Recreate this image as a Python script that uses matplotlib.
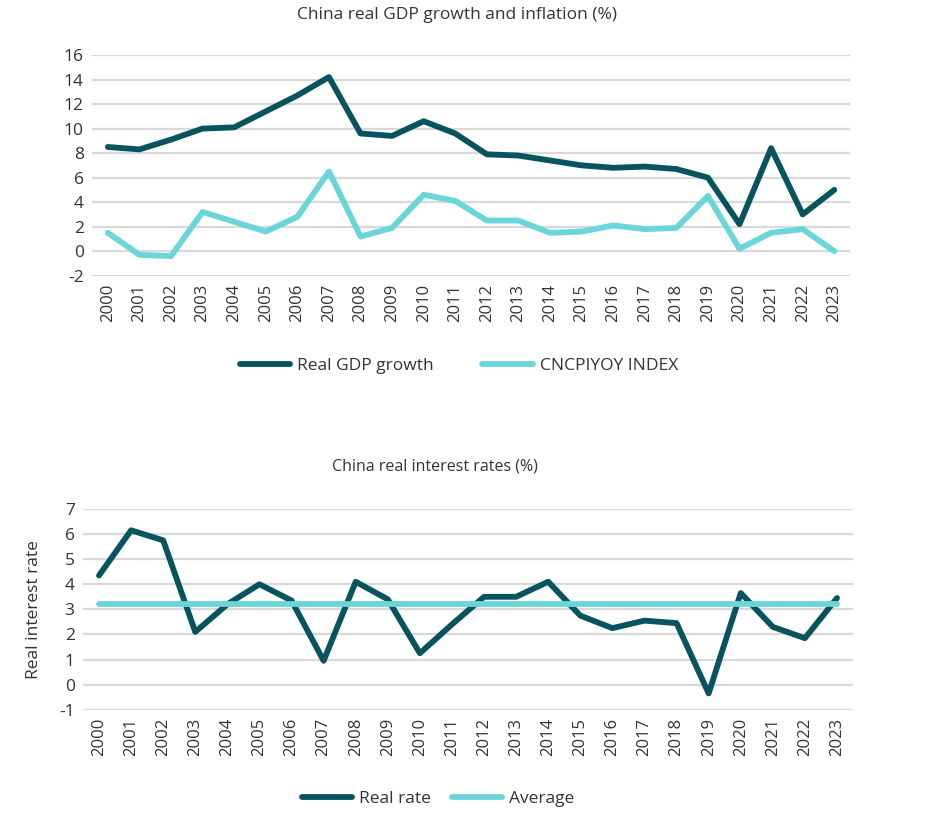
import numpy as np
import matplotlib
matplotlib.use('Agg')
import matplotlib.pyplot as plt

# data
years = [str(y) for y in range(2000, 2024)]

gdp_growth = [8.5, 8.3, 9.1, 10.0, 10.1, 11.4, 12.7, 14.2, 9.6, 9.4, 10.6, 9.6,
              7.9, 7.8, 7.4, 7.0, 6.8, 6.9, 6.7, 6.0, 2.2, 8.4, 3.0, 5.0]
cpi_yoy = [1.5, -0.3, -0.4, 3.2, 2.4, 1.6, 2.8, 6.5, 1.2, 1.9, 4.6, 4.1,
           2.5, 2.5, 1.5, 1.6, 2.1, 1.8, 1.9, 4.5, 0.2, 1.5, 1.8, 0.0]

real_rate = [4.35, 6.15, 5.75, 2.1, 3.2, 4.0, 3.35, 0.95, 4.1, 3.4, 1.25, 2.4,
             3.5, 3.5, 4.1, 2.75, 2.25, 2.55, 2.45, -0.35, 3.65, 2.3, 1.85, 3.45]
average_rate = [3.2] * len(years)

DARK = '#07545f'
LIGHT = '#6bd6d9'
GRID = '#d9d9d9'
TEXT = '#333333'
LW = 4.2

plt.rcParams['font.family'] = ['Open Sans', 'DejaVu Sans']
plt.rcParams['text.color'] = TEXT

fig = plt.figure(figsize=(9.25, 8.26), dpi=100)


def style_axes(ax, yticks):
    x = np.arange(len(years))
    ax.set_xlim(-0.5, len(years) - 0.5)
    ax.set_xticks(x)
    ax.set_xticklabels(years, rotation=90, fontsize=12, color=TEXT)
    ax.set_yticks(yticks)
    ax.set_yticklabels([str(t) for t in yticks], fontsize=12.5, color=TEXT)
    ax.set_ylim(yticks[0], yticks[-1])
    ax.grid(axis='y', color=GRID, linewidth=1.6)
    ax.set_axisbelow(True)
    for s in ax.spines.values():
        s.set_visible(False)
    ax.tick_params(length=0, pad=6)


# top chart: GDP growth and inflation
ax1 = fig.add_axes([0.0995, 0.6662, 0.8195, 0.2672])
x = np.arange(len(years))
ax1.plot(x, gdp_growth, color=DARK, lw=LW, label='Real GDP growth',
         solid_capstyle='round', clip_on=False)
ax1.plot(x, cpi_yoy, color=LIGHT, lw=LW, label='CNCPIYOY INDEX',
         solid_capstyle='round', clip_on=False)
style_axes(ax1, list(range(-2, 17, 2)))
fig.text(0.494, 0.982, 'China real GDP growth and inflation (%)',
         ha='center', va='center', fontsize=12.5)
ax1.legend(loc='upper center', bbox_to_anchor=(0.484, -0.30), ncol=2,
           frameon=False, fontsize=12.5, handlelength=2.9, handletextpad=0.4,
           columnspacing=2.8)

# bottom chart: real interest rates
ax2 = fig.add_axes([0.0897, 0.1408, 0.8325, 0.243])
ax2.plot(x, real_rate, color=DARK, lw=LW, label='Real rate',
         solid_capstyle='round', clip_on=False)
ax2.plot(x, average_rate, color=LIGHT, lw=LW, label='Average',
         solid_capstyle='round', clip_on=False)
style_axes(ax2, list(range(-1, 8)))
ax2.set_ylabel('Real interest rate', fontsize=12.5, color=TEXT, labelpad=12)
fig.text(0.47, 0.435, 'China real interest rates (%)',
         ha='center', va='center', fontsize=11.5)
ax2.legend(loc='upper center', bbox_to_anchor=(0.461, -0.325), ncol=2,
           frameon=False, fontsize=12.5, handlelength=2.9, handletextpad=0.4,
           columnspacing=1.2)

fig.savefig('out.png', dpi=100, facecolor='white')
